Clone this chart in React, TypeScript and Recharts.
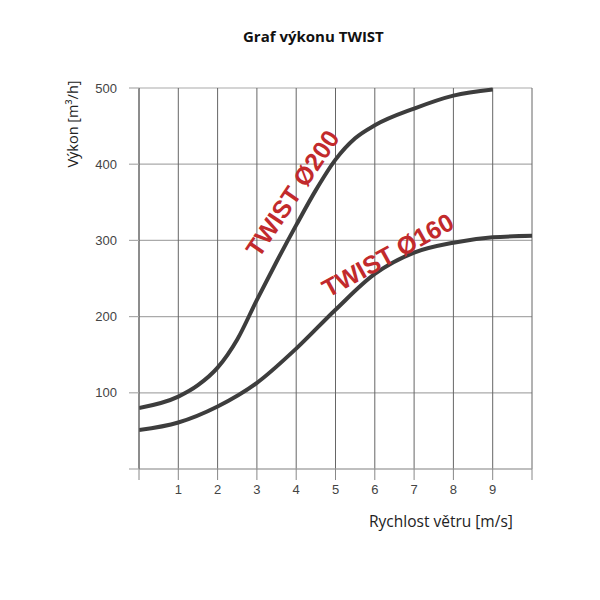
import { LineChart, Line, XAxis, YAxis, CartesianGrid, ReferenceDot } from 'recharts';

const xTicks = [0, 1, 2, 3, 4, 5, 6, 7, 8, 9, 10];
const yTicks = [0, 100, 200, 300, 400, 500];

const twist200 = [
  { x: 0, y: 80 },
  { x: 1, y: 95 },
  { x: 1.5, y: 110 },
  { x: 2, y: 133 },
  { x: 2.5, y: 170 },
  { x: 3, y: 222 },
  { x: 3.5, y: 272 },
  { x: 4, y: 320 },
  { x: 4.5, y: 366 },
  { x: 5, y: 406 },
  { x: 5.5, y: 434 },
  { x: 6, y: 451 },
  { x: 7, y: 473 },
  { x: 8, y: 490 },
  { x: 9, y: 498 },
];

const twist160 = [
  { x: 0, y: 51 },
  { x: 1, y: 61 },
  { x: 2, y: 82 },
  { x: 3, y: 113 },
  { x: 4, y: 158 },
  { x: 5, y: 209 },
  { x: 6, y: 256 },
  { x: 7, y: 284 },
  { x: 8, y: 297 },
  { x: 9, y: 304 },
  { x: 10, y: 306 },
];

const seriesLabels = [
  { text: 'TWIST Ø200', x: 3.9, y: 362, rot: -56 },
  { text: 'TWIST Ø160', x: 6.33, y: 281, rot: -29 },
];

const tickFont = { fontFamily: 'Liberation Sans, Arial, sans-serif', fontSize: 13, fill: '#444' };

function RotatedLabel(props: any) {
  const { viewBox, text, rot } = props;
  const cx = viewBox.x + (viewBox.width || 0) / 2;
  const cy = viewBox.y + (viewBox.height || 0) / 2;
  return (
    <text
      x={cx}
      y={cy}
      transform={`rotate(${rot} ${cx} ${cy})`}
      textAnchor="middle"
      dominantBaseline="central"
      fill="#c22a2c"
      fontFamily="Liberation Sans, Arial, sans-serif"
      fontWeight="bold"
      fontSize={25}
    >
      {text}
    </text>
  );
}

export default function App() {
  return (
    <div style={{ position: 'absolute', left: 0, top: 0, width: 600, height: 600, background: '#fff' }}>
      <div
        style={{
          position: 'absolute',
          top: 26,
          left: 243,
          fontFamily: 'Open Sans, sans-serif',
          fontWeight: 'bold',
          fontSize: 15,
          color: '#111',
        }}
      >
        Graf výkonu TWIST
      </div>
      <div
        style={{
          position: 'absolute',
          left: 72,
          top: 124,
          transform: 'translate(-50%, -50%) rotate(-90deg)',
          whiteSpace: 'nowrap',
          fontFamily: 'Open Sans, sans-serif',
          fontSize: 14.5,
          color: '#222',
        }}
      >
        Výkon [m³/h]
      </div>
      <div
        style={{
          position: 'absolute',
          left: 369,
          top: 510,
          fontFamily: 'Open Sans, sans-serif',
          fontSize: 15.5,
          color: '#222',
        }}
      >
        Rychlost větru [m/s]
      </div>
      <LineChart
        width={600}
        height={600}
        margin={{ top: 88, right: 68, left: 0, bottom: 101 }}
        style={{ position: 'absolute', left: 0, top: 0 }}
      >
        <CartesianGrid stroke="#aaa" strokeWidth={1.2} vertical={false} />
        <CartesianGrid stroke="#666" strokeWidth={1} horizontal={false} />
        <XAxis
          type="number"
          dataKey="x"
          domain={[0, 10]}
          ticks={xTicks}
          allowDataOverflow
          height={30}
          tickSize={11}
          tickMargin={5}
          axisLine={{ stroke: '#aaa', strokeWidth: 1.2 }}
          tickLine={{ stroke: '#888' }}
          tick={tickFont}
          tickFormatter={(v: number) => (v === 0 || v === 10 ? '' : String(v))}
        />
        <YAxis
          type="number"
          dataKey="y"
          domain={[0, 500]}
          ticks={yTicks}
          width={139}
          tickSize={10}
          tickMargin={12}
          axisLine={{ stroke: '#666' }}
          tickLine={{ stroke: '#aaa', strokeWidth: 1.2 }}
          tick={tickFont}
          tickFormatter={(v: number) => (v === 0 ? '' : String(v))}
        />
        <Line
          data={twist200}
          dataKey="y"
          type="monotone"
          stroke="#3d3d3d"
          strokeWidth={4}
          dot={false}
          isAnimationActive={false}
        />
        <Line
          data={twist160}
          dataKey="y"
          type="monotone"
          stroke="#3d3d3d"
          strokeWidth={4}
          dot={false}
          isAnimationActive={false}
        />
        {seriesLabels.map((l) => (
          <ReferenceDot
            key={l.text}
            x={l.x}
            y={l.y}
            r={0}
            stroke="none"
            fill="none"
            label={<RotatedLabel text={l.text} rot={l.rot} />}
          />
        ))}
      </LineChart>
    </div>
  );
}
